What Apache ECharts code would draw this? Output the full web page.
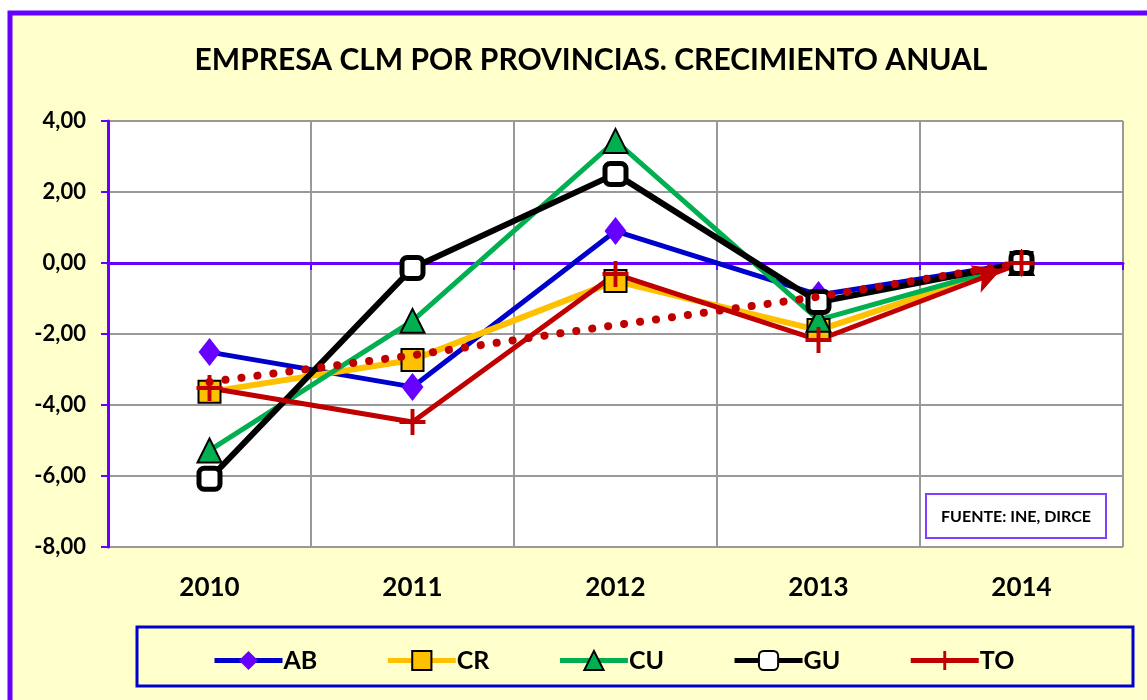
<!DOCTYPE html>
<html>
<head>
<meta charset="utf-8">
<script src="https://cdn.jsdelivr.net/npm/echarts@6/dist/echarts.min.js"></script>
<style>
html,body{margin:0;padding:0;background:#fff;}
#container1{width:1147px;height:700px;}
</style>
</head>
<body>
<div id="container1"></div>
<script>
var years = ['2010', '2011', '2012', '2013', '2014'];
var ab = [-2.51, -3.49, 0.90, -0.90, 0.00];
var cr = [-3.63, -2.73, -0.51, -1.89, 0.00];
var cu = [-5.28, -1.63, 3.44, -1.60, 0.00];
var gu = [-6.08, -0.14, 2.51, -1.10, 0.00];
var to = [-3.52, -4.48, -0.31, -2.17, 0.00];
// linea de tendencia punteada
var tendencia = [-3.35, -2.60, -1.75, -0.95, 0.00];
var yTicks = [-8, -6, -4, -2, 0, 2, 4];

var myChart = echarts.init(document.getElementById('container1'));
var fuente = 'Lato, "Open Sans", sans-serif';
var plus = 'path://M8.5,0h3v8.5h8.5v3h-8.5v8.5h-3v-8.5h-8.5v-3h8.5z';

function serie(name, data, color, lw, symbol, size, fill, bc, bw) {
    return {
        name: name,
        type: 'line',
        data: data,
        symbol: symbol,
        symbolSize: size,
        lineStyle: {width: lw, color: color},
        itemStyle: {color: fill, borderColor: bc, borderWidth: bw},
        z: 3
    };
}

var option = {
    animation: false,
    backgroundColor: '#fff',
    graphic: [{
        type: 'rect', z: -10,
        shape: {x: 10, y: 13, width: 1150, height: 700},
        style: {fill: '#FFFFCC', stroke: '#6600FF', lineWidth: 5}
    }, {
        type: 'rect', z: 100,
        shape: {x: 926, y: 494, width: 180, height: 44},
        style: {fill: '#fff', stroke: '#7F3FFF', lineWidth: 2}
    }, {
        type: 'text', z: 101,
        x: 1016, y: 517,
        style: {text: 'FUENTE: INE, DIRCE', font: 'bold 16px ' + fuente, fill: '#000', align: 'center', verticalAlign: 'middle'}
    }, {
        type: 'rect', z: -5,
        shape: {x: 137, y: 627, width: 996, height: 59},
        style: {fill: '#FFFFCC', stroke: '#0000CC', lineWidth: 3}
    }],
    title: {
        text: 'EMPRESA CLM POR PROVINCIAS. CRECIMIENTO ANUAL',
        left: 586, top: 40, textAlign: 'center',
        textStyle: {fontFamily: fuente, fontWeight: 'bold', fontSize: 30, color: '#000'}
    },
    grid: {left: 108, right: 24, top: 121, bottom: 153, show: true, backgroundColor: '#fff', borderWidth: 0},
    legend: {
        data: ['AB', 'CR', 'CU', 'GU', 'TO'],
        left: 207, top: 643, itemGap: 68,
        itemWidth: 68, itemHeight: 24,
        lineStyle: {width: 5},
        textStyle: {fontFamily: fuente, fontWeight: 'bold', fontSize: 25, color: '#000', padding: [0, 0, 0, -4]}
    },
    xAxis: [{
        type: 'category',
        data: years,
        position: 'bottom',
        axisLine: {onZero: true, lineStyle: {color: '#6600FF', width: 3}},
        axisTick: {show: true, length: 7, lineStyle: {color: '#6600FF', width: 2}},
        axisLabel: {show: false},
        splitLine: {show: true, lineStyle: {color: '#999', width: 2}}
    }, {
        type: 'category',
        data: years,
        position: 'bottom',
        axisLine: {show: false, onZero: false},
        axisTick: {show: false},
        axisLabel: {margin: 28, fontFamily: fuente, fontWeight: 'bold', fontSize: 26, color: '#000'}
    }],
    yAxis: {
        type: 'value',
        min: yTicks[0], max: yTicks[yTicks.length - 1], interval: 2,
        axisLine: {show: true, lineStyle: {color: '#6600FF', width: 3}},
        axisTick: {show: true, length: 7, lineStyle: {color: '#6600FF', width: 2}},
        axisLabel: {
            margin: 22, fontFamily: fuente, fontWeight: 'bold', fontSize: 22, color: '#000',
            formatter: function (v) { return v.toFixed(2).replace('.', ','); }
        },
        splitLine: {show: true, lineStyle: {color: '#999', width: 2}}
    },
    series: [
        serie('AB', ab, '#0000CC', 5, 'diamond', [22, 28], '#6600FF', '#6600FF', 0),
        serie('CR', cr, '#FFC000', 6, 'rect', 22, '#FFC000', '#000', 2),
        serie('CU', cu, '#00B050', 5, 'triangle', 24, '#00B050', '#000', 2),
        serie('GU', gu, '#000', 6, 'roundRect', 21, '#fff', '#000', 5),
        {
            name: 'TO', type: 'line', data: to,
            symbol: plus, symbolSize: 26, z: 3,
            lineStyle: {width: 5, color: '#C00000'},
            itemStyle: {color: '#C00000'},
            markPoint: {
                silent: true,
                symbol: 'arrow', symbolSize: [22, 28], symbolRotate: -69, symbolOffset: [-20, 6],
                itemStyle: {color: '#C00000'},
                label: {show: false},
                data: [{coord: [years[4], to[4]]}]
            }
        },
        {
            name: 'tendencia', type: 'line', data: tendencia,
            symbol: 'none', z: 4,
            lineStyle: {width: 8, color: '#C00000', type: [0.1, 16], cap: 'round'}
        }
    ]
};
myChart.setOption(option);
</script>
</body>
</html>
